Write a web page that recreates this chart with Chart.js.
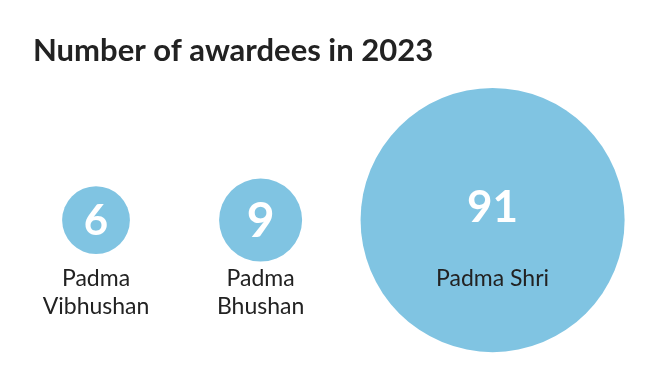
<!DOCTYPE html>
<html>
<head>
<meta charset="utf-8">
<script src="https://cdn.jsdelivr.net/npm/chart.js@4"></script>
<style>
  html, body { margin: 0; padding: 0; background: #fff; }
  #wrap { width: 660px; height: 388px; position: relative; }
</style>
</head>
<body>
<div id="wrap"><canvas id="awardChart"></canvas></div>
<script>
// data
const categories = ['Padma Vibhushan', 'Padma Bhushan', 'Padma Shri'];
const awardees = [6, 9, 91];

// layout: where each circle sits across the width (percent of plot width)
const slots = [10.05, 36.3, 73.3];
const RADIUS_PER_SQRT = 13.84; // circle area follows the value
const FONT = 'Lato, "Noto Sans", sans-serif';

const labelPlugin = {
    id: 'bubbleLabels',
    afterDatasetsDraw(chart) {
        const ctx = chart.ctx;
        const meta = chart.getDatasetMeta(0);
        ctx.save();
        ctx.textAlign = 'center';
        meta.data.forEach((el, i) => {
            const r = el.options.radius;
            const big = r > 80;
            // number
            ctx.fillStyle = '#ffffff';
            ctx.font = `bold ${big ? 44 : (r > 40 ? 48 : 42)}px ${FONT}`;
            ctx.textBaseline = 'middle';
            ctx.fillText(String(awardees[i]), el.x, el.y + (big ? -12 : 1));
            // category name
            ctx.fillStyle = '#222222';
            ctx.font = `23px ${FONT}`;
            ctx.textBaseline = 'alphabetic';
            const words = categories[i].split(' ');
            const lines = big ? [categories[i]] : words;
            lines.forEach((line, j) => {
                ctx.fillText(line, el.x, el.y + 66 + j * 28);
            });
        });
        ctx.restore();
    }
};

const ctx = document.getElementById('awardChart').getContext('2d');
new Chart(ctx, {
    type: 'bubble',
    data: {
        labels: categories,
        datasets: [{
            data: awardees.map((v, i) => ({ x: slots[i], y: 0, r: RADIUS_PER_SQRT * Math.sqrt(v) })),
            backgroundColor: '#80c4e2',
            borderWidth: 0,
            hoverRadius: 0,
            clip: false
        }]
    },
    options: {
        responsive: true,
        maintainAspectRatio: false,
        animation: false,
        events: [],
        layout: { autoPadding: false, padding: { left: 33, right: 0, top: 0, bottom: 17 } },
        scales: {
            x: { type: 'linear', min: 0, max: 100, display: false },
            y: { type: 'linear', min: -1, max: 1, display: false }
        },
        plugins: {
            legend: { display: false },
            tooltip: { enabled: false },
            title: {
                display: true,
                text: 'Number of awardees in 2023',
                align: 'start',
                color: '#222222',
                font: { family: FONT, size: 31, weight: 'bold' },
                padding: { top: 32, bottom: 0 }
            }
        }
    },
    plugins: [labelPlugin]
});
</script>
</body>
</html>
